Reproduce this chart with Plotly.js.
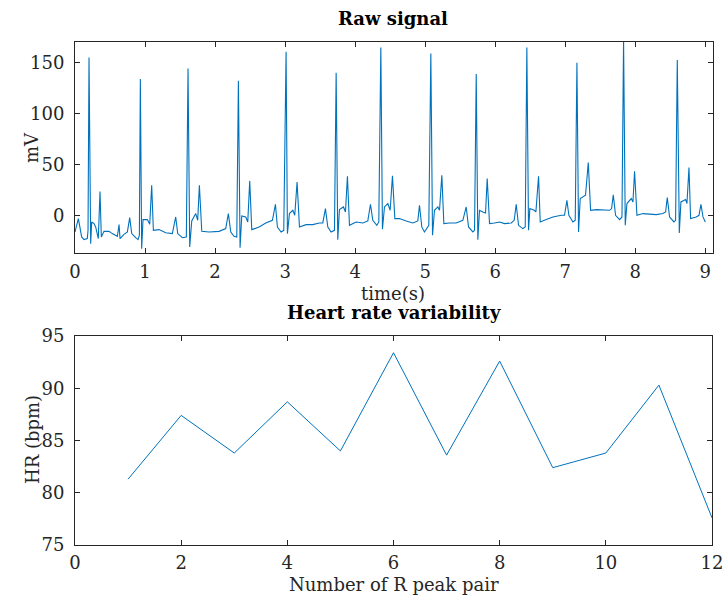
<!DOCTYPE html>
<html>
<head>
<meta charset="utf-8">
<script src="https://cdn.plot.ly/plotly-3.0.1.min.js"></script>
<style>html,body{margin:0;padding:0;background:#fff;}#chart{width:723px;height:597px;}</style>
</head>
<body>
<div id="chart"></div>
<script>
// Raw ECG signal (time in s, amplitude in mV)
const ecgTime = [
0.000,0.048,0.095,0.129,0.176,0.186,0.200,0.224,0.238,0.271,0.295,0.333,0.357,0.376,0.414,0.486,0.533,0.605,0.629,0.643,
0.700,0.748,0.781,0.810,0.867,0.900,0.919,0.933,0.952,0.971,1.033,1.067,1.095,1.119,1.200,1.295,1.390,1.438,1.467,1.533,
1.590,1.614,1.638,1.667,1.724,1.752,1.776,1.810,1.914,2.057,2.152,2.190,2.224,2.271,2.310,2.333,2.357,2.381,2.438,2.467,
2.495,2.524,2.629,2.724,2.819,2.862,2.890,2.943,2.981,3.014,3.033,3.062,3.110,3.138,3.171,3.205,3.300,3.395,3.490,3.538,
3.576,3.610,3.657,3.705,3.729,3.752,3.776,3.833,3.862,3.890,3.919,4.014,4.110,4.181,4.219,4.252,4.310,4.338,4.367,4.390,
4.419,4.467,4.500,4.533,4.567,4.633,4.729,4.824,4.895,4.919,4.952,4.990,5.052,5.081,5.105,5.133,5.181,5.205,5.238,5.267,
5.348,5.443,5.538,5.586,5.619,5.681,5.705,5.729,5.752,5.776,5.824,5.862,5.886,5.919,5.990,6.062,6.133,6.229,6.271,6.300,
6.333,6.395,6.429,6.452,6.476,6.495,6.557,6.581,6.619,6.643,6.729,6.824,6.943,6.990,7.024,7.052,7.110,7.143,7.167,7.190,
7.214,7.262,7.290,7.329,7.362,7.443,7.538,7.633,7.662,7.686,7.719,7.776,7.810,7.833,7.857,7.881,7.943,7.967,7.990,8.024,
8.110,8.205,8.300,8.395,8.433,8.457,8.490,8.552,8.576,8.600,8.629,8.652,8.719,8.738,8.767,8.790,8.871,8.910,8.938,8.967,
9.000
];
const ecgMv = [
-16.0,-2.9,-20.9,-23.5,-22.5,-14.4,154.9,-27.5,-6.2,-7.8,-11.1,-22.5,23.5,-20.9,-15.4,-15.4,-17.6,-20.3,-8.8,-22.5,
-18.3,-16.0,-2.0,-17.6,-21.6,-23.5,-19.3,133.7,-32.4,-3.9,-3.9,-8.5,29.7,-14.4,-13.7,-16.7,-17.6,-1.3,-17.6,-21.6,
-20.9,144.1,-30.7,-5.2,2.0,-4.6,29.7,-15.4,-16.0,-15.4,-12.7,2.0,-16.0,-20.3,-20.9,132.0,-31.4,-0.3,-1.3,-6.2,
34.0,-13.7,-11.1,-7.2,-4.6,11.1,-11.1,-16.0,-14.4,160.5,-17.6,2.0,5.2,0.3,33.0,-11.1,-8.8,-8.8,-7.2,-7.2,
6.9,-11.1,-16.0,-14.4,139.9,-23.5,5.9,8.5,3.6,38.6,-9.5,-6.2,-7.2,-5.2,11.1,-4.6,-9.5,-6.2,164.7,-13.4,
8.5,11.8,5.2,38.9,-2.9,-2.9,-5.2,-7.2,-5.2,10.1,-11.1,-16.0,-9.5,158.8,-19.3,5.2,8.5,5.2,39.5,-7.8,
-7.2,-7.2,-4.6,8.5,-11.1,-16.0,-14.4,138.6,-23.5,5.2,3.6,2.6,36.3,-7.8,-7.2,-6.2,-7.8,-7.2,-4.6,11.1,
-9.5,-12.7,-11.1,164.7,-14.4,6.9,5.2,3.6,38.6,-6.2,-3.9,-1.3,0.3,0.3,15.0,0.3,-6.2,-4.6,149.7,-16.0,
16.7,18.3,19.9,52.0,5.2,5.9,5.2,5.2,6.9,20.3,0.3,-3.9,-1.3,171.9,-9.5,11.8,16.7,13.4,43.5,0.3,
2.0,1.3,1.0,2.0,3.6,17.6,-1.3,-6.2,-4.6,152.3,-17.0,13.4,15.7,11.8,47.1,-2.9,-1.3,0.3,11.1,-1.3,
-6.2
];

// Heart rate variability
const peakPair = [1,2,3,4,5,6,7,8,9,10,11,12];
const heartRate = [81.3,87.4,83.8,88.7,84.0,93.4,83.6,92.6,82.4,83.8,90.3,77.6];

const topXTicks = [0,1,2,3,4,5,6,7,8,9];
const topYTicks = [0,50,100,150];
const botXTicks = [0,2,4,6,8,10,12];
const botYTicks = [75,80,85,90,95];

const W = 723, H = 597;
const px = v => v / W;
const py = v => 1 - v / H;

const FONT = 'DejaVu Serif, Liberation Serif, serif';
const AX = '#262626';
const LINE = '#0072BD';

function axisBase(extra) {
  return Object.assign({
    showline: true, linecolor: AX, linewidth: 1, mirror: 'ticks',
    ticks: 'inside', ticklen: 5, tickwidth: 1, tickcolor: AX,
    showgrid: false, zeroline: false, automargin: false,
    tickfont: {family: FONT, size: 18, color: AX},
    ticklabeloverflow: 'allow',
    tickmode: 'array'
  }, extra);
}

const traces = [
  {x: ecgTime, y: ecgMv, type: 'scatter', mode: 'lines', line: {color: LINE, width: 1.1}, xaxis: 'x', yaxis: 'y', hoverinfo: 'skip'},
  {x: peakPair, y: heartRate, type: 'scatter', mode: 'lines', line: {color: LINE, width: 1}, xaxis: 'x2', yaxis: 'y2', hoverinfo: 'skip'}
];

const layout = {
  width: W, height: H,
  margin: {l: 0, r: 0, t: 0, b: 0},
  paper_bgcolor: '#fff', plot_bgcolor: '#fff',
  showlegend: false,
  xaxis: axisBase({domain: [px(75), px(713)], range: [0, 9.11], tickvals: topXTicks, ticklabelstandoff: 2, anchor: 'y'}),
  yaxis: axisBase({domain: [py(253), py(42)], range: [-36.6, 170], tickvals: topYTicks, ticklabelstandoff: 6, anchor: 'x'}),
  xaxis2: axisBase({domain: [px(75), px(712)], range: [0, 12.0001], tickvals: botXTicks, ticklabelstandoff: 1, anchor: 'y2'}),
  yaxis2: axisBase({domain: [py(545), py(336)], range: [75, 95.0001], tickvals: botYTicks, ticklabelstandoff: 6, anchor: 'x2'}),
  annotations: [
    {text: '<b>Raw signal</b>', x: px(393), y: py(18), xref: 'paper', yref: 'paper', showarrow: false, xanchor: 'center', yanchor: 'middle', font: {family: FONT, size: 18, color: '#000'}},
    {text: 'time(s)', x: px(393), y: py(293), xref: 'paper', yref: 'paper', showarrow: false, xanchor: 'center', yanchor: 'middle', font: {family: FONT, size: 18, color: AX}},
    {text: 'mV', x: px(31), y: py(148), xref: 'paper', yref: 'paper', showarrow: false, textangle: -90, xanchor: 'center', yanchor: 'middle', font: {family: FONT, size: 18, color: AX}},
    {text: '<b>Heart rate variability</b>', x: px(394), y: py(312), xref: 'paper', yref: 'paper', showarrow: false, xanchor: 'center', yanchor: 'middle', font: {family: FONT, size: 18, color: '#000'}},
    {text: 'Number of R peak pair', x: px(394), y: py(584), xref: 'paper', yref: 'paper', showarrow: false, xanchor: 'center', yanchor: 'middle', font: {family: FONT, size: 18, color: AX}},
    {text: 'HR (bpm)', x: px(32), y: py(440), xref: 'paper', yref: 'paper', showarrow: false, textangle: -90, xanchor: 'center', yanchor: 'middle', font: {family: FONT, size: 18, color: AX}}
  ]
};

Plotly.newPlot('chart', traces, layout, {staticPlot: true, displayModeBar: false});
</script>
</body>
</html>
